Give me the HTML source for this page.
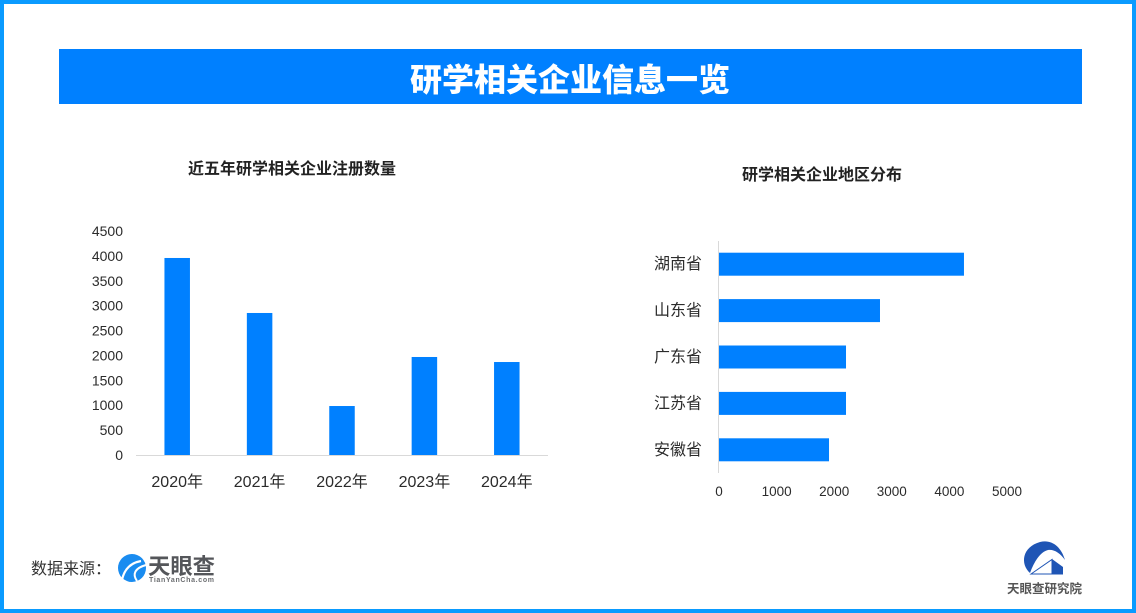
<!DOCTYPE html>
<html lang="zh">
<head>
<meta charset="utf-8">
<title>研学相关企业信息一览</title>
<style>
html,body{margin:0;padding:0;background:#fff}
#page{position:relative;width:1136px;height:613px;overflow:hidden;background:#fff;box-sizing:border-box;border:4px solid #0a9bff}
svg{position:absolute;left:-4px;top:-4px}
text{font-family:"Liberation Sans","Noto Sans CJK SC",sans-serif;fill:#2b2b2b}
.cjk{font-family:"Noto Sans CJK SC","Liberation Sans",sans-serif}
</style>
</head>
<body>
<div id="page">
<svg id="chart" width="1136" height="613" viewBox="0 0 1136 613">
  <rect x="59" y="49" width="1023" height="55" fill="#0080ff"/>
  <text x="570" y="91" text-anchor="middle" class="cjk" font-size="32" font-weight="900" style="fill:#fff">研学相关企业信息一览</text>
  <text x="292" y="174" text-anchor="middle" class="cjk" font-size="16" font-weight="700" style="fill:#222">近五年研学相关企业注册数量</text>
  <text x="822" y="180" text-anchor="middle" class="cjk" font-size="16" font-weight="700" style="fill:#222">研学相关企业地区分布</text>
  <g id="year-chart"></g>
  <g id="region-chart"></g>

  <text x="31" y="574" class="cjk" font-size="16" style="fill:#333">数据来源：</text>
  <g>
    <circle cx="132" cy="568" r="14" fill="#1a8cf0"/>
    <path d="M122 580 C124 570 130 563 141 561" fill="none" stroke="#fff" stroke-width="2.2"/>
    <path d="M137 581 C132 574 135 568 146 565" fill="none" stroke="#fff" stroke-width="2"/>
    <text x="148" y="574" class="cjk" font-size="22" font-weight="700" style="fill:#54565a" textLength="67" lengthAdjust="spacingAndGlyphs">天眼查</text>
    <text x="149" y="582" font-size="7" font-weight="700" style="fill:#6b6d70" textLength="65">TianYanCha.com</text>
  </g>
  <g>
    <path d="M1030 573 C1020 564 1022 547 1040 542 C1051 539 1061 546 1065 560 C1060 553 1054 549 1048 550 C1040 552 1034 562 1030 573 Z" fill="#1f55b5"/>
    <path d="M1031 574 L1052 559.5 L1052 574 Z" fill="#fff" stroke="#1f55b5" stroke-width="1"/>
    <path d="M1052 559 L1063 567 L1063 574.5 L1052 574.5 Z" fill="#1f55b5"/>
    <text x="1007" y="593" class="cjk" font-size="12.5" font-weight="700" style="fill:#555" textLength="75" lengthAdjust="spacingAndGlyphs">天眼查研究院</text>
  </g>
</svg>
</div>
<script>
const yearCategories = ['2020年', '2021年', '2022年', '2023年', '2024年'];
const yearValues = [3958, 2853, 984, 1969, 1868];
const yearTicks = [0, 500, 1000, 1500, 2000, 2500, 3000, 3500, 4000, 4500];
const regionCategories = ['湖南省', '山东省', '广东省', '江苏省', '安徽省'];
const regionValues = [4253, 2795, 2205, 2205, 1910];
const regionTicks = [0, 1000, 2000, 3000, 4000, 5000];

const NS = 'http://www.w3.org/2000/svg';
function make(parent, tag, attrs, content) {
  const el = document.createElementNS(NS, tag);
  for (const k in attrs) el.setAttribute(k, attrs[k]);
  if (content !== undefined) el.textContent = content;
  parent.appendChild(el);
  return el;
}

// Year chart axes
const yBase = 455, yTop = 231, xLeft = 136, xRight = 548;
function yScale(v) { return yBase - (v / 4500) * (yBase - yTop); }
function xBand(i) { return xLeft + (i + 0.5) * (xRight - xLeft) / yearCategories.length; }
const yearGroup = document.getElementById('year-chart');

yearTicks.forEach(function (t) {
  const el = make(yearGroup, 'text', { x: 123, y: yScale(t) + 5, 'text-anchor': 'end', 'font-size': 14 }, t);
  
  
});
yearValues.forEach(function (v, i) {
  const bar = make(yearGroup, 'rect', { x: xBand(i) - 12.75, y: yScale(v), width: 25.5, height: yBase - yScale(v), fill: '#0080ff' });
  
  
});
const baseLine = make(yearGroup, 'line', { x1: xLeft, x2: xRight, y1: yBase + 0.5, y2: yBase + 0.5, stroke: '#d9d9d9', 'stroke-width': 1 });


yearCategories.forEach(function (c, i) {
  const el = make(yearGroup, 'text', { x: xBand(i), y: 487, 'text-anchor': 'middle', 'font-size': 16 }, c);
  
  
});

// Region chart axes
const rLeft = 719, rPerUnit = 57.6 / 1000, rTop = 241, rBottom = 473;
function rScale(v) { return rLeft + v * rPerUnit; }
function rBand(i) { return rTop + (i + 0.5) * (rBottom - rTop) / regionCategories.length; }
const regionGroup = document.getElementById('region-chart');

regionValues.forEach(function (v, i) {
  const bar = make(regionGroup, 'rect', { x: rLeft, y: rBand(i) - 11.5, width: rScale(v) - rLeft, height: 23, fill: '#0080ff' });
  
  
});
const regionAxis = make(regionGroup, 'line', { x1: 718.5, x2: 718.5, y1: rTop, y2: rBottom, stroke: '#d9d9d9', 'stroke-width': 1 });


regionCategories.forEach(function (c, i) {
  const el = make(regionGroup, 'text', { x: 702, y: rBand(i) + 5, 'text-anchor': 'end', 'font-size': 16 }, c);
  el.setAttribute('class', 'cjk');
  
  
});
regionTicks.forEach(function (t) {
  const el = make(regionGroup, 'text', { x: rScale(t), y: 496, 'text-anchor': 'middle', 'font-size': 13.5 }, t);
  
  
});
</script>
</body>
</html>
